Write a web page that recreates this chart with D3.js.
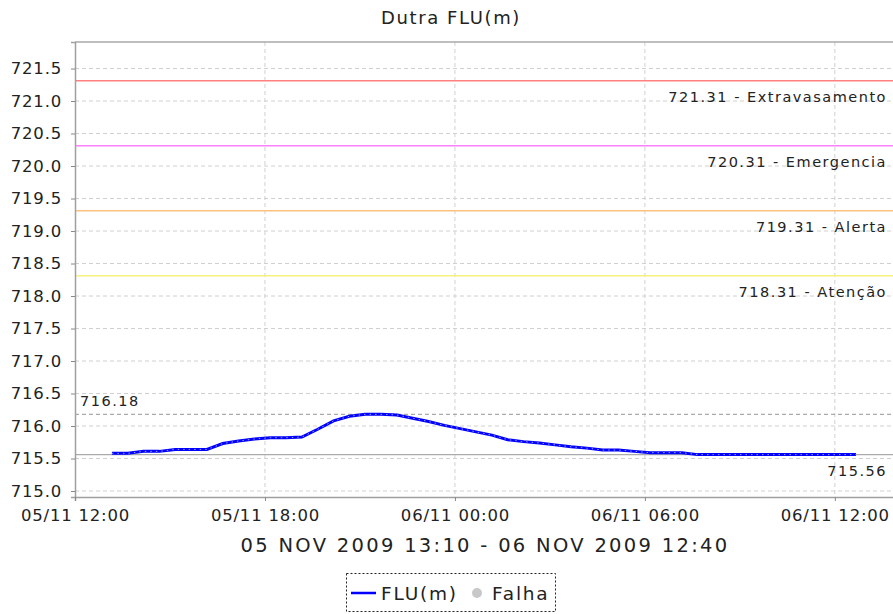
<!DOCTYPE html>
<html>
<head>
<meta charset="utf-8">
<script src="https://cdn.jsdelivr.net/npm/d3@7"></script>
<style>
  body { margin: 0; background: #fff; }
  svg text { font-family: "DejaVu Sans", sans-serif; fill: #222; }
</style>
</head>
<body>
<div id="chart"></div>
<script>
// FLU(m) readings, one every 30 min from 05/11 13:10 to 06/11 12:40
const firstReading = new Date(2009, 10, 5, 13, 10);
const stepMinutes = 30;
const levels = [
  715.58, 715.58, 715.61, 715.61, 715.64, 715.64, 715.64, 715.73,
  715.77, 715.80, 715.82, 715.82, 715.83, 715.95, 716.08, 716.15,
  716.18, 716.18, 716.17, 716.12, 716.07, 716.01, 715.96, 715.91,
  715.86, 715.79, 715.76, 715.74, 715.71, 715.68, 715.66, 715.63,
  715.63, 715.61, 715.59, 715.59, 715.59, 715.56, 715.56, 715.56,
  715.56, 715.56, 715.56, 715.56, 715.56, 715.56, 715.56, 715.56
];

// alarm levels
const limitValues = [721.31, 720.31, 719.31, 718.31];
const limitNames = ["Extravasamento", "Emergencia", "Alerta", "Atenção"];
const limitColors = ["#ff8080", "#ff80ff", "#ffc080", "#f8f080"];

const yTicks = [715.0, 715.5, 716.0, 716.5, 717.0, 717.5, 718.0, 718.5,
                719.0, 719.5, 720.0, 720.5, 721.0, 721.5];
const xTicks = [new Date(2009, 10, 5, 12), new Date(2009, 10, 5, 18),
                new Date(2009, 10, 6, 0), new Date(2009, 10, 6, 6),
                new Date(2009, 10, 6, 12)];

const title = "Dutra FLU(m)";
const xLabel = "05 NOV 2009 13:10 - 06 NOV 2009 12:40";

const W = 893, H = 614;
const plot = { left: 75, right: 895, top: 42, bottom: 497 };

const svg = d3.select("#chart").append("svg")
  .attr("width", W).attr("height", H);

const x = d3.scaleTime()
  .domain([new Date(2009, 10, 5, 12), new Date(2009, 10, 6, 13, 54)])
  .range([plot.left, plot.right]);
const y = d3.scaleLinear()
  .domain([714.908, 721.908])
  .range([plot.bottom, plot.top]);

const data = levels.map((v, i) => ({
  t: d3.timeMinute.offset(firstReading, i * stepMinutes), v: v
}));

// grid
const grid = svg.append("g");
grid.selectAll("line.h").data(yTicks).join("line")
  .attr("x1", plot.left).attr("x2", plot.right)
  .attr("y1", d => y(d)).attr("y2", d => y(d))
  .attr("stroke", "#d0d0d0").attr("stroke-dasharray", "4,3");
grid.selectAll("line.v").data(xTicks.slice(1)).join("line")
  .attr("x1", d => x(d)).attr("x2", d => x(d))
  .attr("y1", plot.top).attr("y2", plot.bottom)
  .attr("stroke", "#d0d0d0").attr("stroke-dasharray", "4,3");

// outline
svg.append("line")
  .attr("x1", plot.left).attr("x2", plot.right)
  .attr("y1", plot.top).attr("y2", plot.top)
  .attr("stroke", "#a8a8a8").attr("stroke-width", 1.5);

// alarm lines + labels
svg.append("g").selectAll("line").data(limitValues).join("line")
  .attr("x1", plot.left).attr("x2", plot.right)
  .attr("y1", d => y(d)).attr("y2", d => y(d))
  .attr("stroke", (d, i) => limitColors[i]).attr("stroke-width", 1.5);
svg.append("g").selectAll("text").data(limitValues).join("text")
  .attr("x", 887).attr("y", d => y(d) + 21)
  .attr("text-anchor", "end")
  .style("font-size", "14.5px").style("letter-spacing", "1.5px")
  .text((d, i) => d.toFixed(2) + " - " + limitNames[i]);

// max / min markers
const maxLevel = d3.max(levels), minLevel = d3.min(levels);
svg.append("line")
  .attr("x1", plot.left).attr("x2", plot.right)
  .attr("y1", y(maxLevel)).attr("y2", y(maxLevel))
  .attr("stroke", "#aaaaaa").attr("stroke-width", 1.3).attr("stroke-dasharray", "4,3");
svg.append("text")
  .attr("x", 80).attr("y", y(maxLevel) - 8)
  .style("font-size", "14.5px").style("letter-spacing", "1.5px")
  .text(maxLevel.toFixed(2));
svg.append("line")
  .attr("x1", plot.left).attr("x2", plot.right)
  .attr("y1", y(minLevel)).attr("y2", y(minLevel))
  .attr("stroke", "#aaaaaa").attr("stroke-width", 1.3);
svg.append("text")
  .attr("x", 887).attr("y", y(minLevel) + 21)
  .attr("text-anchor", "end")
  .style("font-size", "14.5px").style("letter-spacing", "1.5px")
  .text(minLevel.toFixed(2));

// series
const line = d3.line().x(d => x(d.t)).y(d => y(d.v));
svg.append("path").datum(data)
  .attr("d", line).attr("fill", "none")
  .attr("stroke", "#0000ff").attr("stroke-width", 3);
svg.append("path").datum(data)
  .attr("d", line).attr("fill", "none")
  .attr("stroke", "#9a9aff").attr("stroke-width", 1)
  .attr("stroke-dasharray", "1.5,4");

// axes
const yAxis = svg.append("g")
  .attr("transform", `translate(${plot.left},0)`)
  .call(d3.axisLeft(y).tickValues(yTicks).tickFormat(d3.format(".1f"))
    .tickSize(4).tickPadding(9));
const xAxis = svg.append("g")
  .attr("transform", `translate(0,${plot.bottom})`)
  .call(d3.axisBottom(x).tickValues(xTicks).tickFormat(d3.timeFormat("%d/%m %H:%M"))
    .tickSize(4).tickPadding(8));
[yAxis, xAxis].forEach(a => {
  a.select(".domain").attr("stroke", "#a0a0a0").attr("stroke-width", 1.5);
  a.selectAll(".tick line").attr("stroke", "#888");
  a.selectAll("text").style("font-family", "DejaVu Sans")
    .style("font-size", "16.5px").style("letter-spacing", "0.8px").attr("fill", "#222");
});

// titles
svg.append("text")
  .attr("x", 451).attr("y", 24).attr("text-anchor", "middle")
  .style("font-size", "18px").style("letter-spacing", "1.6px")
  .text(title);
svg.append("text")
  .attr("x", (plot.left + plot.right) / 2).attr("y", 552).attr("text-anchor", "middle")
  .style("font-size", "19.5px").style("letter-spacing", "2.3px")
  .text(xLabel);

// legend
const lg = svg.append("g");
lg.append("rect")
  .attr("x", 346.5).attr("y", 573.5).attr("width", 209).attr("height", 38)
  .attr("fill", "none").attr("stroke", "#222").attr("stroke-dasharray", "2,2");
lg.append("line")
  .attr("x1", 351).attr("x2", 376).attr("y1", 593).attr("y2", 593)
  .attr("stroke", "#0000ff").attr("stroke-width", 2.5);
lg.append("text")
  .attr("x", 381).attr("y", 600)
  .style("font-size", "18.5px").style("letter-spacing", "1.8px")
  .text("FLU(m)");
lg.append("circle")
  .attr("cx", 477).attr("cy", 593).attr("r", 5)
  .attr("fill", "#c8c8c8");
lg.append("text")
  .attr("x", 492).attr("y", 600)
  .style("font-size", "18.5px").style("letter-spacing", "1.8px")
  .text("Falha");
</script>
</body>
</html>
